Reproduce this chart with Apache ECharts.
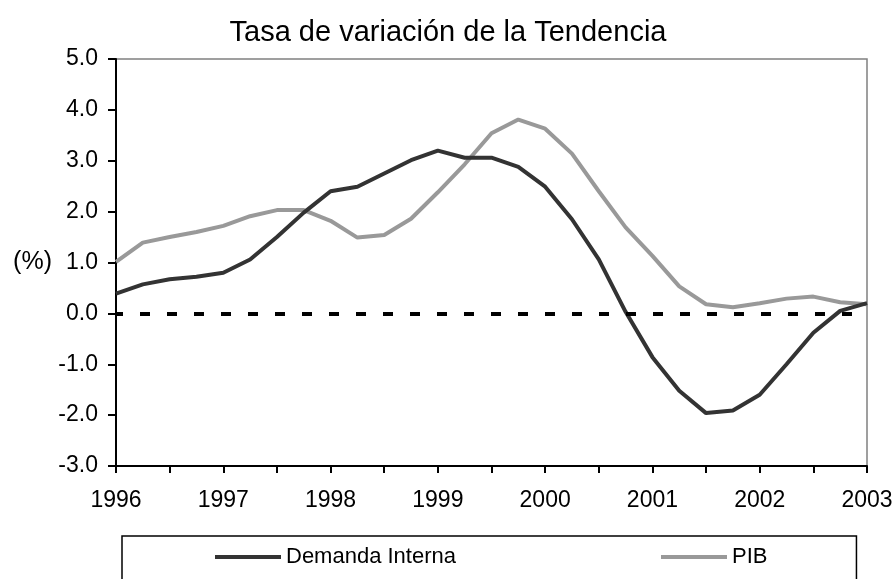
<!DOCTYPE html>
<html>
<head>
<meta charset="utf-8">
<script src="https://cdn.jsdelivr.net/npm/echarts@6/dist/echarts.min.js"></script>
<style>
    html, body { margin: 0; padding: 0; background: #fff; }
    #chart { width: 896px; height: 579px; }
</style>
</head>
<body>
<div id="chart"></div>
<script>
// trimestres 1996-I ... 2003-I
let quarters = [
    '1996-1', '1996-2', '1996-3', '1996-4',
    '1997-1', '1997-2', '1997-3', '1997-4',
    '1998-1', '1998-2', '1998-3', '1998-4',
    '1999-1', '1999-2', '1999-3', '1999-4',
    '2000-1', '2000-2', '2000-3', '2000-4',
    '2001-1', '2001-2', '2001-3', '2001-4',
    '2002-1', '2002-2', '2002-3', '2002-4',
    '2003-1'
];

// Demanda Interna (%)
let demandaInterna = [
    0.39, 0.57, 0.67, 0.72, 0.80, 1.06, 1.50, 1.98,
    2.40, 2.49, 2.75, 3.01, 3.20, 3.06, 3.06, 2.88,
    2.49, 1.85, 1.06, 0.03, -0.86, -1.52, -1.96, -1.91,
    -1.60, -1.00, -0.38, 0.05, 0.20
];

// PIB (%)
let pib = [
    1.01, 1.39, 1.50, 1.60, 1.72, 1.91, 2.03, 2.03,
    1.82, 1.49, 1.54, 1.86, 2.38, 2.93, 3.54, 3.81,
    3.63, 3.14, 2.40, 1.69, 1.13, 0.53, 0.18, 0.12,
    0.20, 0.29, 0.33, 0.22, 0.18
];

// eje Y
let yMin = -3, yMax = 5, yStep = 1;

window.onload = function () {
    let chart = echarts.init(document.getElementById('chart'), null, { renderer: 'canvas' });

    let font = "'Liberation Sans', Arial, sans-serif";

    let option = {
        backgroundColor: '#ffffff',
        animation: false,
        textStyle: { fontFamily: font, color: '#000' },
        title: {
            text: 'Tasa de variación de la Tendencia',
            left: 'center',
            top: 13,
            textStyle: { fontFamily: font, fontSize: 29, fontWeight: 'normal', color: '#000' }
        },
        grid: {
            left: 116,
            right: 29,
            top: 59,
            bottom: 113,
            show: true,
            borderColor: '#808080',
            borderWidth: 1.5
        },
        xAxis: {
            type: 'category',
            data: quarters,
            boundaryGap: false,
            // el eje queda abajo, no en el cero
            axisLine: { onZero: false, lineStyle: { color: '#000', width: 2 } },
            axisTick: { interval: 1, length: 7, lineStyle: { color: '#000', width: 2 } },
            axisLabel: {
                interval: 3,
                margin: 23,
                fontSize: 23,
                color: '#000',
                fontFamily: font,
                formatter: function (v) { return v.split('-')[0]; }
            },
            splitLine: { show: false }
        },
        yAxis: {
            type: 'value',
            min: yMin,
            max: yMax,
            interval: yStep,
            name: '(%)',
            nameLocation: 'middle',
            nameRotate: 0,
            nameGap: 64,
            nameTextStyle: { fontSize: 25, color: '#000', fontFamily: font },
            axisLine: { show: true, onZero: false, lineStyle: { color: '#000', width: 2 } },
            axisTick: { show: true, length: 8, lineStyle: { color: '#000', width: 2 } },
            axisLabel: {
                margin: 18,
                fontSize: 23,
                color: '#000',
                fontFamily: font,
                formatter: function (v) { return v.toFixed(1); }
            },
            splitLine: { show: false }
        },
        legend: {
            left: 122,
            top: 536,
            data: ['Demanda Interna', 'PIB'],
            icon: 'rect',
            itemWidth: 66,
            itemHeight: 4,
            itemGap: 205,
            padding: [10, 89, 40, 93],
            borderColor: '#000',
            borderWidth: 1.5,
            textStyle: { fontSize: 22, color: '#000', fontFamily: font }
        },
        series: [
            {
                name: 'Demanda Interna',
                type: 'line',
                data: demandaInterna,
                color: '#333333',
                symbol: 'none',
                lineStyle: { color: '#333333', width: 4 },
                z: 3,
                // linea de cero punteada
                markLine: {
                    silent: true,
                    symbol: 'none',
                    label: { show: false },
                    lineStyle: { color: '#000', width: 4, type: [10, 17], dashOffset: 3 },
                    data: [{ yAxis: 0 }]
                }
            },
            {
                name: 'PIB',
                type: 'line',
                data: pib,
                color: '#999999',
                symbol: 'none',
                lineStyle: { color: '#999999', width: 4 },
                z: 2
            }
        ]
    };

    chart.setOption(option);
};
</script>
</body>
</html>
